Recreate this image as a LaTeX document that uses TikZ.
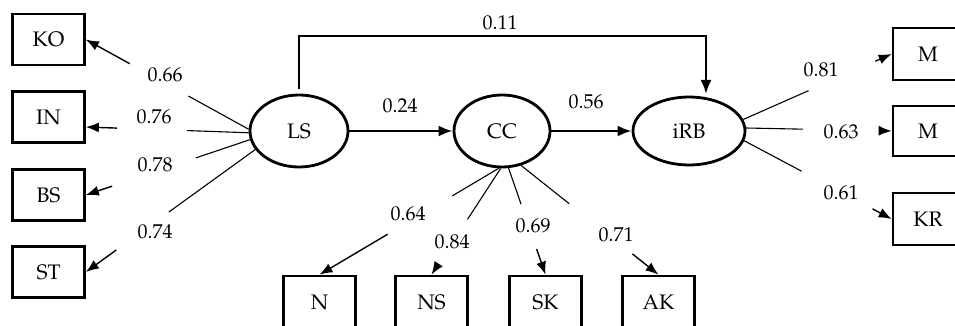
\documentclass[tikz,border=0pt]{standalone}
\usepackage[T1]{fontenc}
\usepackage{mathpazo}
\usetikzlibrary{arrows.meta,calc,shapes.geometric}
\begin{document}
\begin{tikzpicture}[x=1pt,y=-1pt,
 box/.style={draw,line width=2.7pt,minimum width=72pt,minimum height=51pt,inner sep=0pt,font=\fontsize{21}{24}\selectfont},
 lat/.style={draw,ellipse,line width=2.8pt,inner sep=0pt,font=\fontsize{21}{24}\selectfont},
 lbl/.style={font=\fontsize{20}{24}\selectfont,inner sep=0pt},
 fan/.style={line width=1.1pt},
 fanarr/.style={line width=1.4pt,-{Latex[length=13pt,width=10pt]}},
 main/.style={line width=2.5pt,-{Latex[length=14pt,width=11pt]}}]
\clip (0,0) rectangle (955,326);
% latent variables
\node[lat,minimum width=98pt,minimum height=72pt] (LS) at (299,131) {LS};
\node[lat,minimum width=96pt,minimum height=72pt] (CC) at (502,131) {CC};
\node[lat,minimum width=112pt,minimum height=68pt] (iRB) at (689,131) {iRB};
% left indicators
\node[box] (KO) at (48.5,39.5) {KO};
\node[box] (IN) at (48.5,117) {IN};
\node[box] (BS) at (48.5,195) {BS};
\node[box] (ST) at (48.5,272) {ST};
% right indicators
\node[box,minimum width=70pt,minimum height=52pt] (M1) at (928,54) {M};
\node[box,minimum width=70pt,minimum height=50pt] (M2) at (928,131) {M};
\node[box,minimum width=70pt,minimum height=52pt] (KR) at (928,219) {KR};
% bottom indicators
\node[box,minimum height=52pt] (N) at (319.5,302) {N};
\node[box,minimum height=52pt] (NS) at (431.5,302) {NS};
\node[box,minimum height=52pt] (SK) at (545.5,302) {SK};
\node[box,minimum height=52pt] (AK) at (658.5,302) {AK};
% structural paths
\coordinate (tl) at (299,36);
\coordinate (iRBin) at (706,94);
\draw[main] ([yshift=5pt]LS.north) |- (tl) -| (iRBin);
\draw[main] (LS) -- (CC);
\draw[main] (CC) -- (iRB);
% LS loadings
\draw[fan] (LS.178) -- ($(LS.178)!0.37!(KO.east)$);
\draw[fanarr] ($(LS.178)!0.73!(KO.east)$) -- (KO.east);
\draw[fan] (LS.182) -- ($(LS.182)!0.38!(IN.-15)$);
\draw[fanarr] ($(LS.182)!0.81!(IN.-15)$) -- (IN.-15);
\draw[fan] (LS.190) -- ($(LS.190)!0.33!(BS.east)$);
\draw[fanarr] ($(LS.190)!0.84!(BS.east)$) -- (BS.east);
\draw[fan] (LS.203) -- ($(LS.203)!0.51!(ST.east)$);
\draw[fanarr] ($(LS.203)!0.82!(ST.east)$) -- (ST.east);
% CC loadings
\draw[fan] (CC.265) -- ($(CC.265)!0.26!(N.north)$);
\draw[fanarr] ($(CC.265)!0.62!(N.north)$) -- (N.north);
\draw[fan] (CC.268) -- ($(CC.268)!0.48!(NS.north)$);
\draw[fanarr] ($(CC.268)!0.92!(NS.north)$) -- (NS.north);
\draw[fan] (CC.280) -- ($(CC.280)!0.34!(SK.north)$);
\draw[fanarr] ($(CC.280)!0.76!(SK.north)$) -- (SK.north);
\draw[fan] (CC.299) -- ($(CC.299)!0.35!(AK.north)$);
\draw[fanarr] ($(CC.299)!0.81!(AK.north)$) -- (AK.north);
% iRB loadings
\draw[fan] (iRB.12) -- ($(iRB.12)!0.44!(M1.west)$);
\draw[fanarr] ($(iRB.12)!0.89!(M1.west)$) -- (M1.west);
\draw[fan] (iRB.3) -- ($(iRB.3)!0.39!(M2.west)$);
\draw[fanarr] ($(iRB.3)!0.92!(M2.west)$) -- (M2.west);
\draw[fan] (iRB.-10) -- ($(iRB.-10)!0.39!(KR.west)$);
\draw[fanarr] ($(iRB.-10)!0.87!(KR.west)$) -- (KR.west);
% labels
\node[lbl] (l011) at (500,23) {0.11};
\node[lbl] (l024) at (400,106) {0.24};
\node[lbl] (l056) at (586,102) {0.56};
\node[lbl] (l066) at (165,75) {0.66};
\node[lbl] (l076) at (154,117) {0.76};
\node[lbl] (l078) at (155,165) {0.78};
\node[lbl] (l074) at (155,232) {0.74};
\node[lbl] (l064) at (408,214) {0.64};
\node[lbl] (l084) at (452,242) {0.84};
\node[lbl] (l069) at (533,226) {0.69};
\node[lbl] (l071) at (616,235) {0.71};
\node[lbl] (l081) at (821,70) {0.81};
\node[lbl] (l063) at (841,132) {0.63};
\node[lbl] (l061) at (841,193) {0.61};
\end{tikzpicture}
\end{document}
